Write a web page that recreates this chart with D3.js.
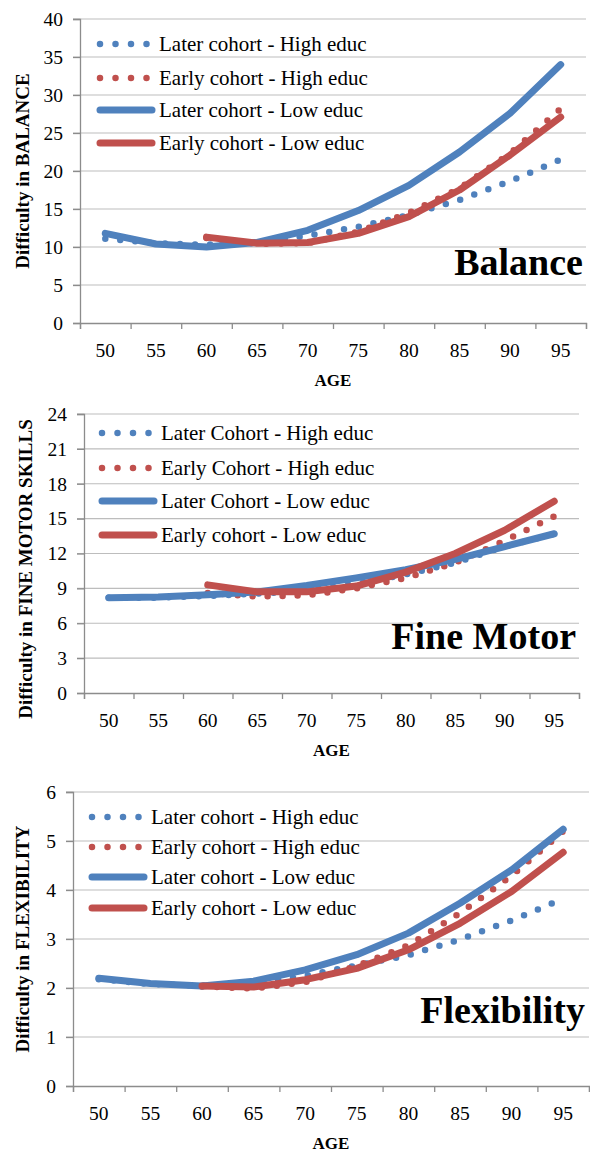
<!DOCTYPE html>
<html lang="en">

<head>
    <meta charset="UTF-8">
    <title>Difficulty by age, cohort and education</title>
    <style>
        body { margin: 0; background: #fff; }
        text { font-family: "Liberation Serif", "Times New Roman", serif; fill: #000; }
    </style>
</head>

<body>
    <script src="https://cdn.jsdelivr.net/npm/d3@7"></script>
    <script>
        // ages on the category axis
        const ageLabels = [50, 55, 60, 65, 70, 75, 80, 85, 90, 95];
        const laterAges = [50, 55, 60, 65, 70, 75, 80, 85, 90, 95];
        const earlyAges = [60, 65, 70, 75, 80, 85, 90, 95];

        // Balance
        const balLaterHigh = [11.1, 10.5, 10.3, 10.6, 11.5, 12.65, 14.2, 16.2, 18.65, 21.5];
        const balEarlyHigh = [11.2, 10.4, 10.5, 12.0, 14.5, 17.7, 22.3, 28.2];
        const balLaterLow = [11.8, 10.4, 10.0, 10.6, 12.2, 14.8, 18.1, 22.5, 27.6, 34.0];
        const balEarlyLow = [11.3, 10.5, 10.6, 11.8, 14.0, 17.5, 22.1, 27.1];
        const balTicks = [0, 5, 10, 15, 20, 25, 30, 35, 40];
        const balLegend = ['Later cohort - High educ', 'Early cohort - High educ', 'Later cohort - Low educ', 'Early cohort - Low educ'];

        // Fine motor
        const fmLaterHigh = [8.2, 8.2, 8.35, 8.55, 8.8, 9.4, 10.2, 11.2, 12.6, 13.7];
        const fmEarlyHigh = [8.6, 8.3, 8.4, 9.0, 9.9, 11.2, 13.1, 15.2];
        const fmLaterLow = [8.2, 8.25, 8.45, 8.7, 9.25, 9.9, 10.6, 11.5, 12.6, 13.7];
        const fmEarlyLow = [9.3, 8.7, 8.7, 9.2, 10.4, 12.0, 14.0, 16.5];
        const fmTicks = [0, 3, 6, 9, 12, 15, 18, 21, 24];
        const fmLegend = ['Later Cohort - High educ', 'Early Cohort - High educ', 'Later Cohort - Low educ', 'Early cohort - Low educ'];

        // Flexibility
        const fxLaterHigh = [2.18, 2.08, 2.05, 2.08, 2.25, 2.46, 2.67, 2.99, 3.38, 3.82];
        const fxEarlyHigh = [2.03, 1.99, 2.12, 2.45, 2.87, 3.53, 4.29, 5.2];
        const fxLaterLow = [2.2, 2.09, 2.04, 2.14, 2.37, 2.68, 3.12, 3.73, 4.41, 5.24];
        const fxEarlyLow = [2.04, 2.02, 2.17, 2.4, 2.78, 3.32, 3.97, 4.77];
        const fxTicks = [0, 1, 2, 3, 4, 5, 6];
        const fxLegend = ['Later cohort - High educ', 'Early cohort - High educ', 'Later cohort - Low educ', 'Early cohort - Low educ'];

        const blue = '#4f81bd';
        const red = '#c0504d';

        const w = 590;
        const h = 1151;

        const svg = d3.select('body')
            .append('svg')
            .attr('width', w)
            .attr('height', h);

        // layout of each panel (pixel boxes)
        const panels = [
            {
                series: [balLaterHigh, balEarlyHigh, balLaterLow, balEarlyLow],
                ticks: balTicks, legend: balLegend,
                yTitle: 'Difficulty in BALANCE', title: 'Balance',
                left: 80, right: 586, top: 19, bottom: 323,
                legendX: 100, legendY: [44, 78, 110, 143],
                yTitleX: 29, yTitleY: 171, titleX: 583, titleY: 275
            },
            {
                series: [fmLaterHigh, fmEarlyHigh, fmLaterLow, fmEarlyLow],
                ticks: fmTicks, legend: fmLegend,
                yTitle: 'Difficulty in FINE MOTOR SKILLS', title: 'Fine Motor',
                left: 84, right: 579, top: 414, bottom: 693,
                legendX: 102, legendY: [433, 468, 501, 535],
                yTitleX: 32, yTitleY: 569, titleX: 576, titleY: 649
            },
            {
                series: [fxLaterHigh, fxEarlyHigh, fxLaterLow, fxEarlyLow],
                ticks: fxTicks, legend: fxLegend,
                yTitle: 'Difficulty in FLEXIBILITY', title: 'Flexibility',
                left: 73, right: 589, top: 792, bottom: 1086,
                legendX: 92, legendY: [817, 847, 877, 908],
                yTitleX: 29, yTitleY: 939, titleX: 585, titleY: 1023
            }
        ];

        const styles = [
            { color: blue, dotted: true, ages: laterAges },
            { color: red, dotted: true, ages: earlyAges },
            { color: blue, dotted: false, ages: laterAges },
            { color: red, dotted: false, ages: earlyAges }
        ];

        function styleLine(sel, s) {
            sel.attr('fill', 'none')
                .attr('stroke', s.color)
                .attr('stroke-linecap', 'round')
                .attr('stroke-linejoin', 'round')
                .attr('stroke-width', s.dotted ? 6.5 : 7)
                .attr('stroke-dasharray', s.dotted ? '0 15' : null);
        }

        panels.forEach(p => {
            const g = svg.append('g');

            // categories sit in the middle of each 5-year slot
            const xScale = d3.scaleLinear()
                .domain([47.5, 97.5])
                .range([p.left, p.right]);

            const yScale = d3.scaleLinear()
                .domain([0, d3.max(p.ticks)])
                .range([p.bottom, p.top]);

            // gridlines
            g.selectAll('.grid')
                .data(p.ticks.slice(1))
                .enter()
                .append('line')
                .attr('x1', p.left - 7)
                .attr('x2', p.right)
                .attr('y1', d => yScale(d))
                .attr('y2', d => yScale(d))
                .attr('stroke', '#bdbdbd')
                .attr('stroke-width', 1.2);

            // y axis
            const yAxis = d3.axisLeft(yScale)
                .tickValues(p.ticks)
                .tickFormat(d => d)
                .tickSize(7)
                .tickPadding(10);
            const ya = g.append('g')
                .attr('transform', `translate(${p.left},0)`)
                .call(yAxis);
            ya.select('.domain').attr('stroke', '#8c8c8c').attr('stroke-width', 1.3);
            ya.selectAll('.tick line').attr('stroke', '#8c8c8c').attr('stroke-width', 1.3);
            ya.selectAll('.tick text')
                .attr('font-size', 19.5)
                .attr('fill', '#000');

            // x axis: tick marks on slot edges, labels in slot centres
            const edges = d3.range(47.5, 98, 5);
            const xEdges = d3.axisBottom(xScale)
                .tickValues(edges)
                .tickSize(6)
                .tickFormat('');
            const xa = g.append('g')
                .attr('transform', `translate(0,${p.bottom})`)
                .call(xEdges);
            xa.select('.domain').attr('stroke', '#8c8c8c').attr('stroke-width', 1.3);
            xa.selectAll('.tick line').attr('stroke', '#8c8c8c').attr('stroke-width', 1.3);

            g.selectAll('.xlab')
                .data(ageLabels)
                .enter()
                .append('text')
                .attr('x', d => xScale(d))
                .attr('y', p.bottom + 33.5)
                .attr('text-anchor', 'middle')
                .attr('font-size', 19.5)
                .text(d => d);

            g.append('text')
                .attr('x', (p.left + p.right) / 2)
                .attr('y', p.bottom + 62.5)
                .attr('text-anchor', 'middle')
                .attr('font-size', 17)
                .attr('font-weight', 'bold')
                .text('AGE');

            g.append('text')
                .attr('transform', `translate(${p.yTitleX},${p.yTitleY}) rotate(-90)`)
                .attr('text-anchor', 'middle')
                .attr('font-size', 19)
                .attr('font-weight', 'bold')
                .text(p.yTitle);

            // series
            const line = d3.line()
                .x(d => xScale(d[0]))
                .y(d => yScale(d[1]));

            p.series.forEach((vals, i) => {
                const s = styles[i];
                const pts = vals.map((v, j) => [s.ages[j], v]);
                g.append('path')
                    .datum(pts)
                    .attr('d', line)
                    .call(styleLine, s);
            });

            // legend
            p.legend.forEach((name, i) => {
                const s = styles[i];
                const ly = p.legendY[i];
                g.append('line')
                    .attr('x1', p.legendX)
                    .attr('x2', p.legendX + (s.dotted ? 47 : 52))
                    .attr('y1', ly)
                    .attr('y2', ly)
                    .call(styleLine, s)
                    .attr('stroke-dasharray', s.dotted ? '0 15.5' : null);
                g.append('text')
                    .attr('x', p.legendX + 59)
                    .attr('y', ly + 7)
                    .attr('font-size', 21)
                    .text(name);
            });

            g.append('text')
                .attr('x', p.titleX)
                .attr('y', p.titleY)
                .attr('text-anchor', 'end')
                .attr('font-size', 38)
                .attr('font-weight', 'bold')
                .text(p.title);
        });
    </script>
</body>

</html>
